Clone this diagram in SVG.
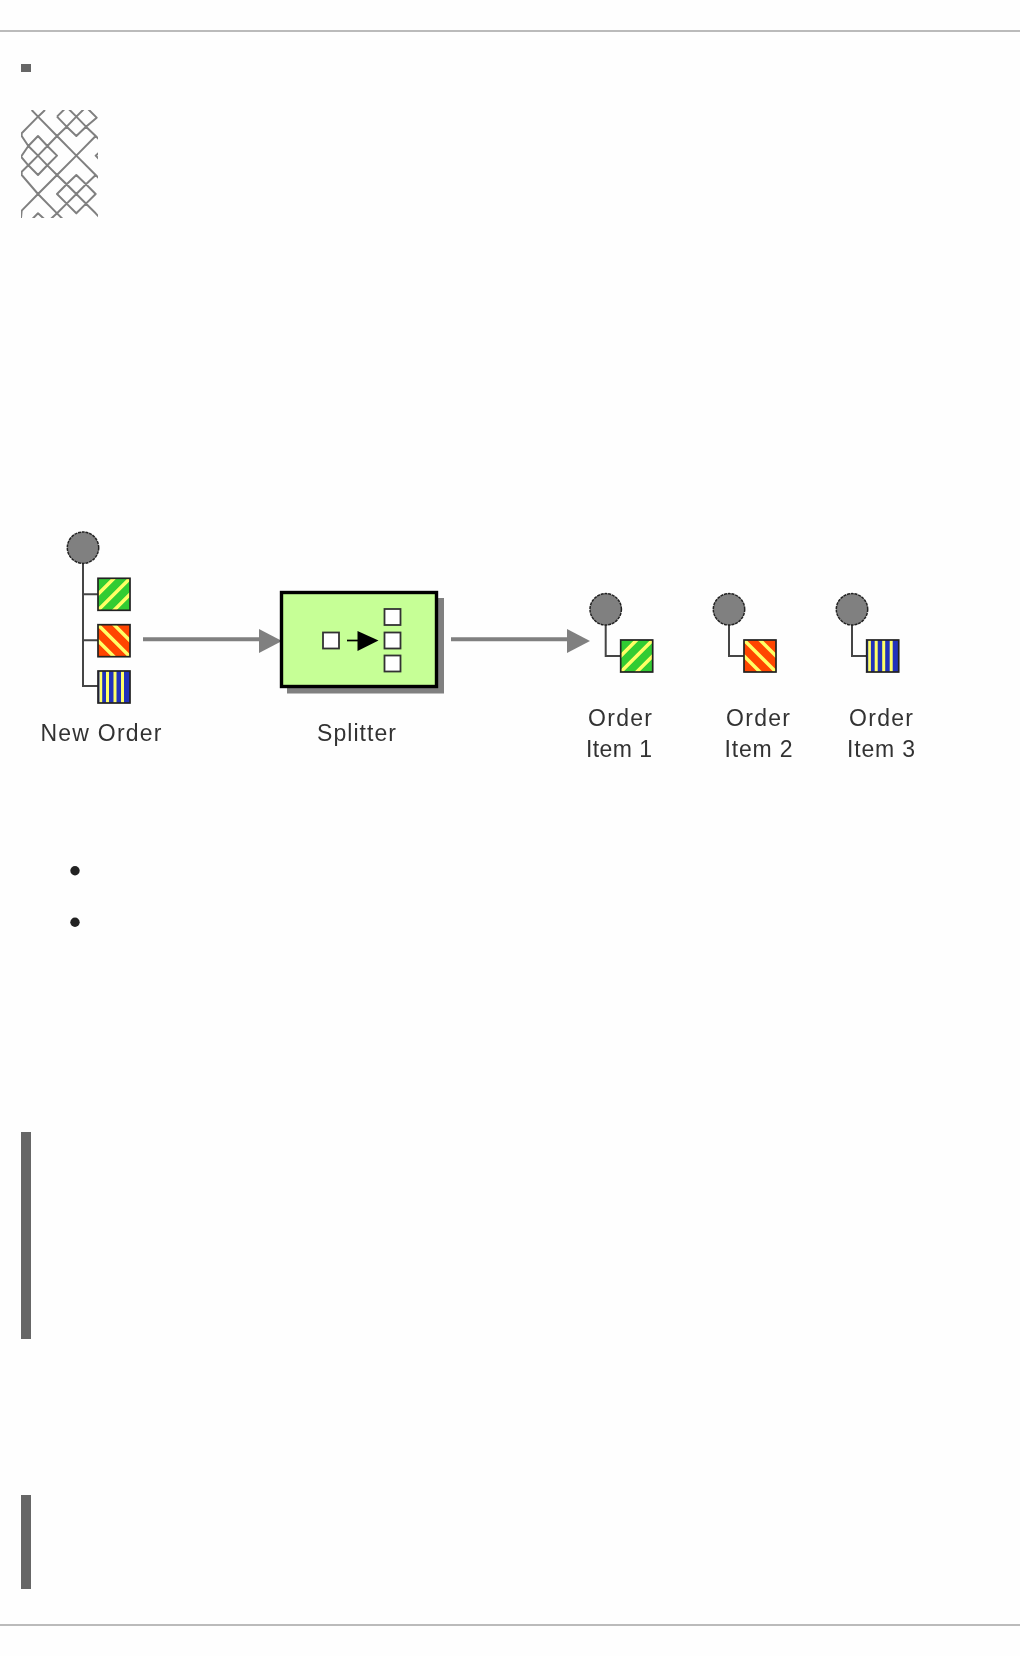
<svg xmlns="http://www.w3.org/2000/svg" width="1020" height="1656" viewBox="0 0 1020 1656">
<style>
.bg{fill:#fefefe}
.rule{stroke:#bbb;stroke-width:2;fill:none}
.bar{fill:#666}
.msg{stroke:#222;stroke-width:1.7}
.trunk{stroke:#444;stroke-width:2;fill:none}
.chan{stroke:#808080;stroke-width:4;fill:none}
.head{fill:#808080}
.circ{fill:#808080;stroke:#222;stroke-width:1.5;stroke-dasharray:3 .8}
.lab{font-family:"Liberation Sans",Arial,sans-serif;font-size:23px;fill:#333}
.box{fill:#fff;stroke:#333;stroke-width:1.8}
.weave{fill:none;stroke:#808080;stroke-width:6;stroke-linejoin:round}
</style>
<defs>
<filter id="soft" x="-5%" y="-5%" width="110%" height="110%"><feGaussianBlur stdDeviation=".45"/></filter>
<clipPath id="wc"><rect x="63" y="330" width="231" height="324"/></clipPath>
<clipPath id="sq"><rect width="32" height="32"/></clipPath>
<g id="green">
<rect width="32" height="32" fill="#3c3"/>
<g clip-path="url(#sq)" stroke="#ff6" stroke-width="3.500"><path d="M-6 38L38-6M-6 22L22-6M10 38L38 10"/></g>
<rect width="32" height="32" fill="none" class="msg"/>
</g>
<g id="red">
<rect width="32" height="32" fill="#f40"/>
<g clip-path="url(#sq)" stroke="#ff6" stroke-width="3.500"><path d="M-6-6L38 38M-6 10L22 38M10-6L38 22"/></g>
<rect width="32" height="32" fill="none" class="msg"/>
</g>
<g id="blue">
<rect width="32" height="32" fill="#23b"/>
<rect x="1.500" y="0" width="2.700" height="32" fill="#ff6"/><rect x="8" y="0" width="3" height="32" fill="#ff6"/><rect x="15.500" y="0" width="3" height="32" fill="#ff6"/><rect x="23" y="0" width="3" height="32" fill="#ff6"/>
<rect width="32" height="32" fill="none" class="msg"/>
</g>
</defs>
<rect class="bg" width="1020" height="1656"/>
<line class="rule" x1="0" y1="31" x2="1020" y2="31"/>
<line class="rule" x1="0" y1="1625" x2="1020" y2="1625"/>
<rect class="bar" x="21" y="64" width="10" height="8"/>
<g id="logo" transform="scale(.33333)" filter="url(#soft)"><g clip-path="url(#wc)"><path class="weave" d="M95 330L114 350L171 408L229 467L287 525L300 538M135 330L114 350L65 400L65 408L85 438L114 467L142 496L171 525L229 582L287 640L300 654M171 350L200 321L229 350L258 321L290 353L258 380L229 408L200 380L171 350M229 350L258 380L287 408L300 421M229 350L200 380L171 408L142 438L114 467L85 496L65 515L65 525L114 582L171 640L190 659M287 408L229 467L171 525L114 582L65 632L63 654M85 438L114 408L142 438L171 467L142 496L114 525L85 496L63 470L85 438M171 525L200 553L229 582L258 611L287 640M287 525L258 553L229 582L200 611L171 640L150 659M200 553L229 525L258 553L287 582L258 611L229 640L200 611L171 582L200 553M95 659L114 640L135 659M300 455L287 467L300 480"/></g></g>
<g id="connectors" filter="url(#soft)">
<line class="chan" x1="143" y1="639.300" x2="262" y2="639.300"/>
<path class="head" d="M259 629L282 641L259 653Z"/>
<line class="chan" x1="451" y1="639.300" x2="569" y2="639.300"/>
<path class="head" d="M567 629L590 641L567 653Z"/>
</g>
<g id="new-order" filter="url(#soft)">
<path class="trunk" d="M83 560V686H98M83 594.300H98M83 640.300H98"/>
<circle class="circ" cx="83" cy="547.700" r="15.700"/>
<use href="#green" x="98" y="578.300"/>
<use href="#red" x="98" y="624.700"/>
<use href="#blue" x="98" y="671"/>
<text class="lab" x="40.500" y="741" textLength="121" lengthAdjust="spacing">New Order</text>
</g>
<g id="splitter" filter="url(#soft)">
<rect x="287" y="598" width="157" height="95.500" fill="#808080"/>
<rect x="281.500" y="592.500" width="155" height="94" fill="#c6ff96" stroke="#000" stroke-width="3.400"/>
<rect class="box" x="323" y="632.500" width="16" height="16"/>
<rect class="box" x="384.500" y="609" width="16" height="16"/>
<rect class="box" x="384.500" y="632.500" width="16" height="16"/>
<rect class="box" x="384.500" y="655.500" width="16" height="16"/>
<line x1="347" y1="640.500" x2="360" y2="640.500" stroke="#000" stroke-width="1.700"/>
<path d="M357.500 631L378.500 640.500L357.500 651Z" fill="#000"/>
<text class="lab" x="317" y="741" textLength="79" lengthAdjust="spacing">Splitter</text>
</g>
<g id="item1" filter="url(#soft)">
<path class="trunk" d="M605.700 625V656H621"/>
<circle class="circ" cx="605.700" cy="609.300" r="15.700"/>
<use href="#green" x="620.700" y="640"/>
<text class="lab" x="588" y="725.700" textLength="64" lengthAdjust="spacing">Order</text>
<text class="lab" x="586" y="756.700" textLength="66" lengthAdjust="spacing">Item 1</text>
</g>
<g id="item2" filter="url(#soft)">
<path class="trunk" d="M729 625V656H744"/>
<circle class="circ" cx="729" cy="609.300" r="15.700"/>
<use href="#red" x="744" y="640"/>
<text class="lab" x="726" y="725.700" textLength="64" lengthAdjust="spacing">Order</text>
<text class="lab" x="724.500" y="756.700" textLength="68" lengthAdjust="spacing">Item 2</text>
</g>
<g id="item3" filter="url(#soft)">
<path class="trunk" d="M852 625V656H867"/>
<circle class="circ" cx="852" cy="609.300" r="15.700"/>
<use href="#blue" x="866.700" y="640"/>
<text class="lab" x="849" y="725.700" textLength="64" lengthAdjust="spacing">Order</text>
<text class="lab" x="847" y="756.700" textLength="68" lengthAdjust="spacing">Item 3</text>
</g>
<circle cx="75" cy="870.700" r="4.700" fill="#222"/>
<circle cx="75" cy="922.300" r="4.700" fill="#222"/>
<rect class="bar" x="21" y="1132" width="10" height="207"/>
<rect class="bar" x="21" y="1495" width="10" height="94"/>
</svg>
